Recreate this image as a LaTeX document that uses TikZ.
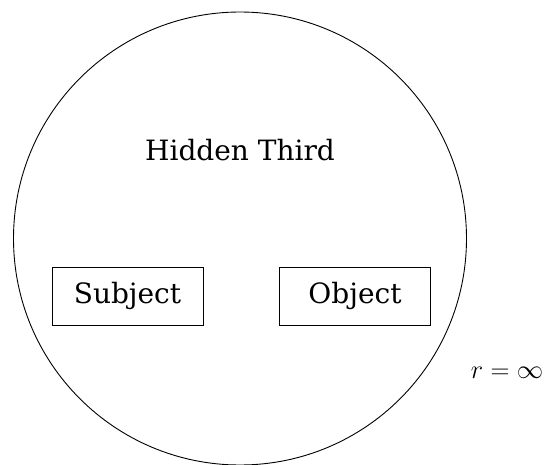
\documentclass[tikz,border=0pt]{standalone}
\usepackage{fontspec}
\setmainfont{DejaVu Serif}
\begin{document}
\begin{tikzpicture}[x=1pt,y=1pt,
  lbl/.style={font=\fontsize{28}{32}\selectfont, inner sep=0pt},
  box/.style={draw, line width=0.9pt, minimum width=151pt, minimum height=58pt, font=\fontsize{28}{32}\selectfont, inner sep=0pt}]
\useasboundingbox (0,0) rectangle (546,-465);
\node[draw, circle, line width=0.9pt, minimum size=453pt, inner sep=0pt] (world) at (240,-238.5) {};
\node[lbl] (third) at (240,-150) {Hidden Third};
\node[box] (subj) at (127.5,-296) {Subject};
\node[box] (obj) at (355,-296) {Object};
\node[font=\fontsize{24.88}{30}\selectfont, inner sep=0pt, anchor=base] (r) at (507,-378) {\scalebox{1.06}{$r=\infty$}};
\end{tikzpicture}
\end{document}
